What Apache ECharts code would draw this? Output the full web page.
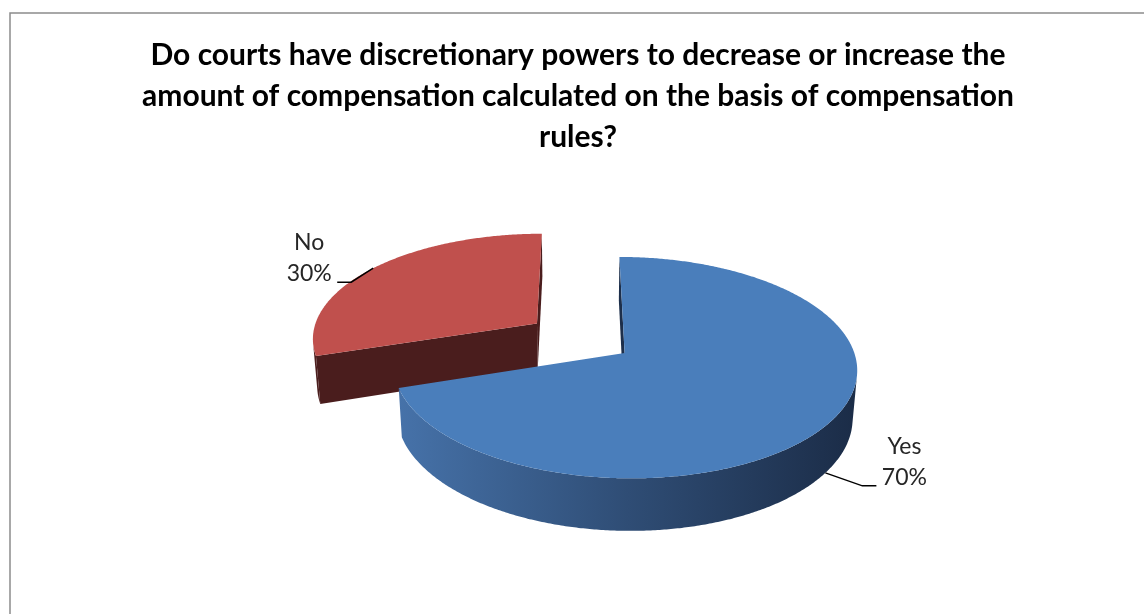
<!DOCTYPE html>
<html>
<head>
<meta charset="utf-8">
<script src="https://cdn.jsdelivr.net/npm/echarts@6/dist/echarts.min.js"></script>
<style>
  html, body { margin: 0; padding: 0; background: #ffffff; }
  #chart { width: 1144px; height: 614px; }
</style>
</head>
<body>
<div id="chart"></div>
<script>
// Survey answers
const categories = ['Yes', 'No'];
const shares = [70, 30];
const titleLines = [
  'Do courts have discretionary powers to decrease or increase the',
  'amount of compensation calculated on the basis of compensation',
  'rules?'
];

// Camera and pie body, lengths in units of the pie radius
const scene = {
  centerX: 580, centerY: 338, focal: 1545,
  elevation: 27.7 * Math.PI / 180, distance: 6.85,
  explode: 0.24, thickness: 0.24
};

const palette = {
  Yes: { top: '#4a7ebb', side: ['#4672a9', '#2f4d75', '#1b2c47'], cut: '#1d2f4b' },
  No:  { top: '#c0504d', side: ['#582323', '#4a1d1d', '#4a1d1d'], cut: '#4a1d1d' }
};

// Leader line bends and label placement, relative to the slice's anchor point
const callouts = {
  Yes: { bend: [37, 13], end: [51, 13], text: [79, -11] },
  No:  { bend: [-22, 14], end: [-36, 14], text: [-64, -10] }
};

const total = shares.reduce((a, b) => a + b, 0);
const startAngles = [];
(function () {
  let acc = 0;
  shares.forEach(v => { startAngles.push(acc / total * Math.PI * 2); acc += v; });
})();

const sinE = Math.sin(scene.elevation), cosE = Math.cos(scene.elevation);

// world (X right, Y up, Z away from viewer) -> screen
function project(X, Y, Z) {
  const yc = Y * cosE + Z * sinE;
  const zc = scene.distance + Z * cosE - Y * sinE;
  return [scene.centerX + scene.focal * X / zc, scene.centerY - scene.focal * yc / zc];
}

function renderSlice(params, api) {
  const i = params.dataIndex;
  const name = categories[i];
  const value = api.value(0);
  const a1 = startAngles[i];
  const a2 = a1 + value / total * Math.PI * 2;
  const mid = (a1 + a2) / 2;
  const Cx = scene.explode * Math.sin(mid);
  const Cz = scene.explode * Math.cos(mid);
  const h = scene.thickness;
  const dc = scene.distance * cosE;
  const rim = (t, Y) => project(Cx + Math.sin(t), Y, Cz + Math.cos(t));
  const col = palette[name];

  const steps = Math.max(8, Math.ceil((a2 - a1) / (Math.PI / 360)));
  const angles = [];
  for (let k = 0; k <= steps; k++) angles.push(a1 + (a2 - a1) * k / steps);

  // farther slices are painted first
  const base = 1000 + Math.round(-Cz * 100) * 10;
  const children = [];

  // outer wall: only the parts turned towards the camera
  const facing = t => Cx * Math.sin(t) + (dc + Cz) * Math.cos(t) + 1 < 0;
  let run = [];
  const flush = () => {
    if (run.length > 1) {
      const pts = run.map(t => rim(t, 0)).concat(run.slice().reverse().map(t => rim(t, -h)));
      children.push({
        type: 'polygon', z2: base,
        shape: { points: pts },
        style: {
          fill: { type: 'linear', x: 0, y: 0, x2: 1, y2: 0,
            colorStops: [
              { offset: 0, color: col.side[0] },
              { offset: 0.5, color: col.side[1] },
              { offset: 1, color: col.side[2] }
            ] },
          stroke: null
        }
      });
    }
    run = [];
  };
  angles.forEach(t => { if (facing(t)) run.push(t); else flush(); });
  flush();

  // cut faces along the two radii
  const face = t => ({
    type: 'polygon', z2: base + 1,
    shape: { points: [project(Cx, 0, Cz), rim(t, 0), rim(t, -h), project(Cx, -h, Cz)] },
    style: { fill: col.cut, stroke: null }
  });
  if (Cx * Math.cos(a1) - (dc + Cz) * Math.sin(a1) > 0) children.push(face(a1));
  if (-Cx * Math.cos(a2) + (dc + Cz) * Math.sin(a2) > 0) children.push(face(a2));

  // top surface
  children.push({
    type: 'polygon', z2: base + 2,
    shape: { points: [project(Cx, 0, Cz)].concat(angles.map(t => rim(t, 0))) },
    style: { fill: col.top, stroke: null }
  });

  // callout with leader line
  const anchor = rim(mid, Math.cos(mid) > 0 ? 0 : -h);
  const co = callouts[name];
  children.push({
    type: 'polyline', z2: 5000,
    shape: { points: [anchor,
      [anchor[0] + co.bend[0], anchor[1] + co.bend[1]],
      [anchor[0] + co.end[0], anchor[1] + co.end[1]]] },
    style: { stroke: '#000000', lineWidth: 1.5, fill: null }
  });
  const pct = Math.round(value / total * 100) + '%';
  children.push({
    type: 'text', z2: 5001,
    style: {
      text: name + '\n' + pct,
      x: anchor[0] + co.text[0], y: anchor[1] + co.text[1],
      align: 'center', verticalAlign: 'middle',
      fontFamily: 'Lato', fontSize: 23, lineHeight: 31, fill: '#262626'
    }
  });

  return { type: 'group', children: children };
}

const chart = echarts.init(document.getElementById('chart'), null, { renderer: 'canvas' });
chart.setOption({
  backgroundColor: '#ffffff',
  animation: false,
  title: {
    text: titleLines.join('\n'),
    left: 573, top: 30,
    textAlign: 'center',
    textStyle: { fontFamily: 'Lato', fontWeight: 'bold', fontSize: 30, lineHeight: 41, color: '#000000' }
  },
  graphic: [{
    type: 'rect', silent: true, z: -1,
    shape: { x: 10, y: 13, width: 1160, height: 640 },
    style: { fill: 'none', stroke: '#8c8c8c', lineWidth: 1.5 }
  }],
  series: [{
    type: 'custom',
    coordinateSystem: 'none',
    silent: true,
    renderItem: renderSlice,
    data: categories.map((n, i) => ({ name: n, value: [shares[i]] }))
  }]
});
</script>
</body>
</html>
